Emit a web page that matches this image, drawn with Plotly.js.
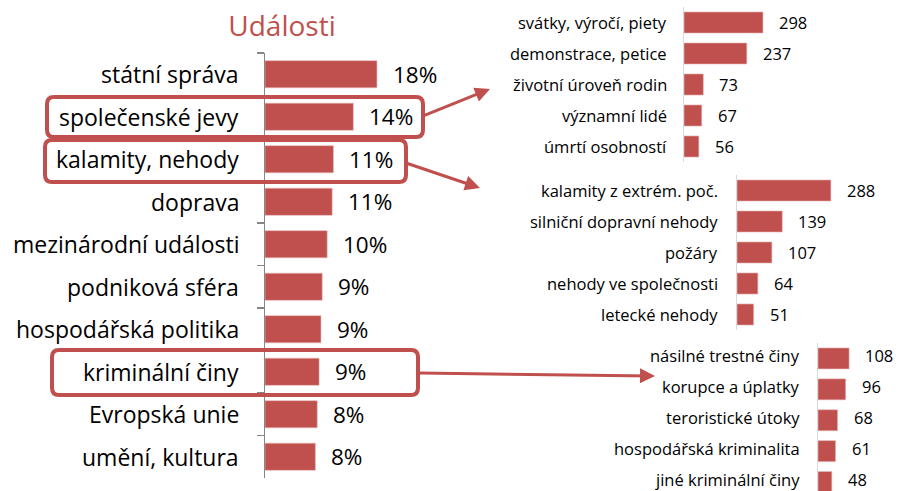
<!DOCTYPE html>
<html>
<head>
<meta charset="utf-8">
<script src="https://cdn.plot.ly/plotly-3.0.1.min.js"></script>
<style>html,body{margin:0;padding:0;background:#fff}#chart{width:924px;height:491px}</style>
</head>
<body>
<div id="chart"></div>
<script>
// ---- data ----
const mainCategories = ['státní správa','společenské jevy','kalamity, nehody','doprava','mezinárodní události','podniková sféra','hospodářská politika','kriminální činy','Evropská unie','umění, kultura'];
const mainValues = [18, 14.2, 11, 10.8, 10, 9.2, 9, 8.7, 8.4, 8.1];
const mainLabels = ['18%','14%','11%','11%','10%','9%','9%','9%','8%','8%'];

const socialCategories = ['svátky, výročí, piety','demonstrace, petice','životní úroveň rodin','významní lidé','úmrtí osobností'];
const socialValues = [298, 237, 73, 67, 56];

const calamityCategories = ['kalamity z extrém. poč.','silniční dopravní nehody','požáry','nehody ve společnosti','letecké nehody'];
const calamityValues = [288, 139, 107, 64, 51];

const crimeCategories = ['násilné trestné činy','korupce a úplatky','teroristické útoky','hospodářská kriminalita','jiné kriminální činy'];
const crimeValues = [108, 96, 68, 61, 48];

// ---- style ----
const W = 924, H = 491;
const RED = '#c0504d';
const FONT = '"Open Sans", sans-serif';
const px = x => x / W;
const py = y => 1 - y / H;

function barTrace(cats, vals, xa, ya, width) {
  return {type:'bar', orientation:'h', y:cats, x:vals, xaxis:xa, yaxis:ya, width:width,
    marker:{color:RED, line:{color:'#e6b9b8', width:0.6}}, hoverinfo:'skip'};
}
function valueAnn(cats, vals, texts, xa, ya, size, shift, ys) {
  return cats.map((c,i)=>({x:vals[i], y:c, xref:xa, yref:ya, text:texts[i], showarrow:false,
    xanchor:'left', yanchor:'middle', xshift:shift, yshift:ys||0, font:{family:FONT, size:size, color:'#000'}}));
}
function catAnn(cats, xa, ya, size, gap, ys) {
  return cats.map(c=>({x:0, y:c, xref:xa+' domain', yref:ya, text:c, showarrow:false,
    xanchor:'right', yanchor:'middle', xshift:-gap, yshift:ys||0, font:{family:FONT, size:size, color:'#000'}}));
}
function roundRect(x0,y0,x1,y1,r){
  return `M${px(x0+r)},${py(y0)} L${px(x1-r)},${py(y0)} Q${px(x1)},${py(y0)} ${px(x1)},${py(y0+r)} `+
    `L${px(x1)},${py(y1-r)} Q${px(x1)},${py(y1)} ${px(x1-r)},${py(y1)} L${px(x0+r)},${py(y1)} `+
    `Q${px(x0)},${py(y1)} ${px(x0)},${py(y1-r)} L${px(x0)},${py(y0+r)} Q${px(x0)},${py(y0)} ${px(x0+r)},${py(y0)} Z`;
}

const data = [
  barTrace(mainCategories, mainValues, 'x', 'y', 0.64),
  barTrace(socialCategories, socialValues, 'x2', 'y2', 0.68),
  barTrace(calamityCategories, calamityValues, 'x3', 'y3', 0.68),
  barTrace(crimeCategories, crimeValues, 'x4', 'y4', 0.68)
];

function yax(domain, range, opts) {
  return Object.assign({domain:domain, range:range, type:'category', showgrid:false, zeroline:false,
    showline:true, linecolor:'#d9d9d9', linewidth:1, ticks:'', automargin:false,
    showticklabels:false, fixedrange:true}, opts||{});
}
function xax(domain, range, anchor) {
  return {domain:domain, range:range, visible:false, anchor:anchor, fixedrange:true};
}

const layout = {
  width:W, height:H, margin:{l:0,r:0,t:0,b:0}, paper_bgcolor:'#fff', plot_bgcolor:'rgba(0,0,0,0)',
  showlegend:false, font:{family:FONT},
  title:{text:'Události', x:px(282), xanchor:'center', y:1-26/H, yanchor:'middle', font:{family:FONT, size:28, color:RED}},
  xaxis: xax([px(265), px(460)], [0, 195/6.22], 'y'),
  yaxis: yax([py(478), py(53)], [9.5, -0.5], {anchor:'x', linecolor:'#868686', linewidth:1.5, ticks:'outside', tickson:'boundaries', ticklen:7, tickcolor:'#868686', tickwidth:1.5}),
  xaxis2: xax([px(684), 1], [0, 240/0.265], 'y2'),
  yaxis2: yax([py(162), py(7)], [4.5, -0.5], {anchor:'x2'}),
  xaxis3: xax([px(737), 1], [0, 187/0.326], 'y3'),
  yaxis3: yax([py(330), py(175)], [4.5, -0.5], {anchor:'x3'}),
  xaxis4: xax([px(818), 1], [0, 106/0.288], 'y4'),
  yaxis4: yax([0, py(343)], [4.29, -0.5], {anchor:'x4'}),
  annotations: [].concat(
    catAnn(mainCategories, 'x', 'y', 23, 24),
    catAnn(socialCategories, 'x2', 'y2', 16.5, 15),
    catAnn(calamityCategories, 'x3', 'y3', 16.5, 17),
    catAnn(crimeCategories, 'x4', 'y4', 16.5, 16, 2.5),
    valueAnn(mainCategories, mainValues, mainLabels, 'x', 'y', 22.5, 14),
    valueAnn(socialCategories, socialValues, socialValues.map(String), 'x2', 'y2', 16.5, 14),
    valueAnn(calamityCategories, calamityValues, calamityValues.map(String), 'x3', 'y3', 16.5, 14),
    valueAnn(crimeCategories, crimeValues, crimeValues.map(String), 'x4', 'y4', 16.5, 14, 2.5),
    [
      {xref:'paper', yref:'paper', x:px(490), y:py(89), ax:-67, ay:27, text:'', showarrow:true, arrowhead:2, arrowsize:1, arrowwidth:3, arrowcolor:RED},
      {xref:'paper', yref:'paper', x:px(480), y:py(188), ax:-74, ay:-25, text:'', showarrow:true, arrowhead:2, arrowsize:1, arrowwidth:3, arrowcolor:RED},
      {xref:'paper', yref:'paper', x:px(655), y:py(376), ax:-237, ay:-3, text:'', showarrow:true, arrowhead:2, arrowsize:1, arrowwidth:3, arrowcolor:RED}
    ]
  ),
  shapes: [
    {type:'path', xref:'paper', yref:'paper', path:roundRect(47,97,423,137,7), line:{color:RED, width:4}},
    {type:'path', xref:'paper', yref:'paper', path:roundRect(45,140,406,182,7), line:{color:RED, width:4}},
    {type:'path', xref:'paper', yref:'paper', path:roundRect(52,350,418,395,7), line:{color:RED, width:4}}
  ]
};

Plotly.newPlot('chart', data, layout, {displayModeBar:false, staticPlot:true});
</script>
</body>
</html>
